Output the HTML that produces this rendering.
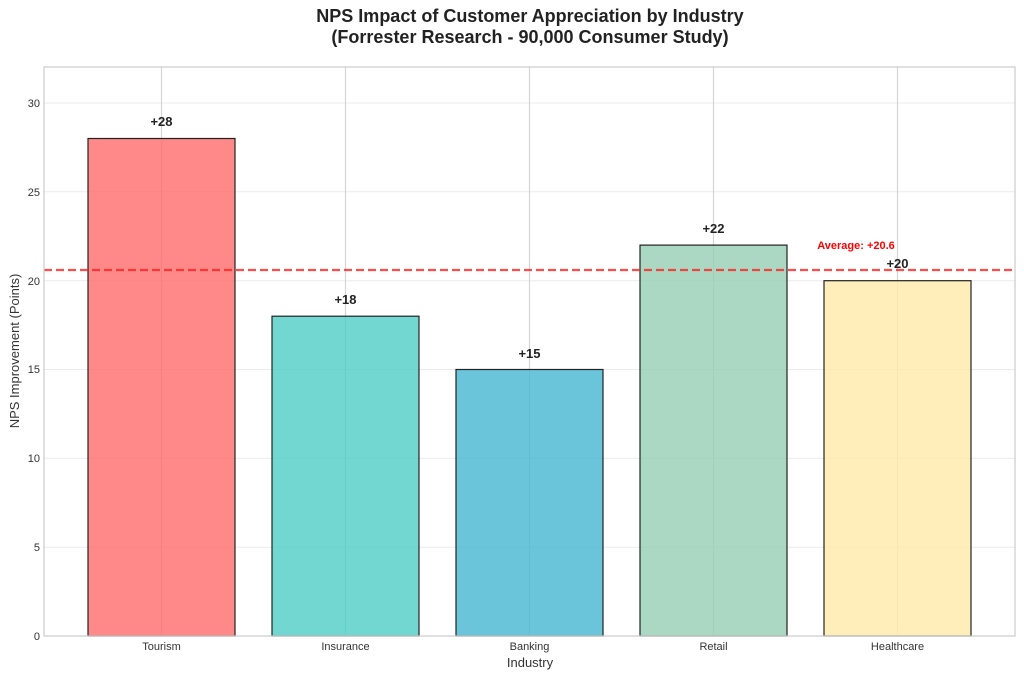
<!DOCTYPE html>
<html><head><meta charset="utf-8"><style>body{margin:0;background:#fff}svg{display:block}</style></head><body>
<svg width="1024" height="679" xmlns="http://www.w3.org/2000/svg" font-family="Liberation Sans, DejaVu Sans, sans-serif">
<rect width="1024" height="679" fill="#fff"/>
<text x="530" y="22" text-anchor="middle" font-size="18" font-weight="bold" fill="#222">NPS Impact of Customer Appreciation by Industry</text>
<text x="530" y="43" text-anchor="middle" font-size="18" font-weight="bold" fill="#222">(Forrester Research - 90,000 Consumer Study)</text>
<g stroke="#ebebeb" stroke-width="1">
<line x1="44" x2="1015" y1="547.2" y2="547.2"/><line x1="44" x2="1015" y1="458.3" y2="458.3"/><line x1="44" x2="1015" y1="369.5" y2="369.5"/><line x1="44" x2="1015" y1="280.7" y2="280.7"/><line x1="44" x2="1015" y1="191.8" y2="191.8"/><line x1="44" x2="1015" y1="103" y2="103"/>
</g>
<g stroke="#d5d5d5" stroke-width="1.2">
<line x1="161.5" x2="161.5" y1="67" y2="636"/><line x1="345.5" x2="345.5" y1="67" y2="636"/><line x1="529.5" x2="529.5" y1="67" y2="636"/><line x1="713.5" x2="713.5" y1="67" y2="636"/><line x1="897.5" x2="897.5" y1="67" y2="636"/>
</g>
<g stroke="#222" stroke-width="1.2" fill-opacity="0.8">
<rect x="88" y="138.5" width="147" height="497.5" fill="#FF6B6B"/>
<rect x="272" y="316.2" width="147" height="319.8" fill="#4ECDC4"/>
<rect x="456" y="369.5" width="147" height="266.5" fill="#45B7D1"/>
<rect x="640" y="245.1" width="147" height="390.9" fill="#96CEB4"/>
<rect x="824" y="280.7" width="147" height="355.3" fill="#FFEAA7"/>
</g>
<line x1="44" x2="1015" y1="270" y2="270" stroke="#ff2020" stroke-opacity="0.8" stroke-width="2.2" stroke-dasharray="8,4"/>
<rect x="44" y="67" width="971" height="569" fill="none" stroke="#cccccc" stroke-width="1.2"/>
<g font-size="13" font-weight="bold" fill="#222" text-anchor="middle">
<text x="161.5" y="126">+28</text><text x="345.5" y="304">+18</text><text x="529.5" y="358">+15</text><text x="713.5" y="233">+22</text><text x="897.5" y="268">+20</text>
</g>
<text x="856" y="249" text-anchor="middle" font-size="11" font-weight="bold" fill="#ff0000">Average: +20.6</text>
<g font-size="11" fill="#333" text-anchor="end">
<text x="40" y="640">0</text><text x="40" y="551">5</text><text x="40" y="462">10</text><text x="40" y="373">15</text><text x="40" y="285">20</text><text x="40" y="196">25</text><text x="40" y="107">30</text>
</g>
<g font-size="11" fill="#333" text-anchor="middle">
<text x="161.5" y="650">Tourism</text><text x="345.5" y="650">Insurance</text><text x="529.5" y="650">Banking</text><text x="713.5" y="650">Retail</text><text x="897.5" y="650">Healthcare</text>
</g>
<text x="530" y="667" text-anchor="middle" font-size="13" fill="#333">Industry</text>
<text transform="translate(19,351) rotate(-90)" text-anchor="middle" font-size="13" fill="#333">NPS Improvement (Points)</text>
</svg>
</body></html>
